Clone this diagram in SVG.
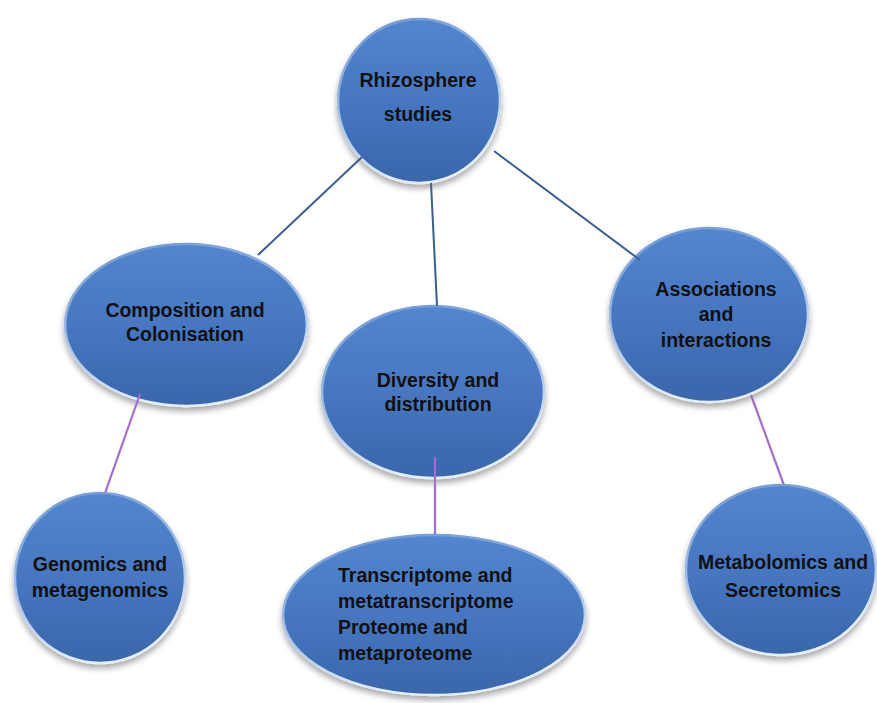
<svg xmlns="http://www.w3.org/2000/svg" width="877" height="703" viewBox="0 0 877 703">
  <defs>
    <linearGradient id="ballFill" x1="0" y1="0" x2="0" y2="1">
      <stop offset="0" stop-color="#5386cf"/>
      <stop offset="0.5" stop-color="#4677c0"/>
      <stop offset="1" stop-color="#3966ac"/>
    </linearGradient>
    <linearGradient id="rim" x1="0" y1="0" x2="0.3" y2="1">
      <stop offset="0" stop-color="#6a95d0"/>
      <stop offset="0.6" stop-color="#a9c4ea"/>
      <stop offset="1" stop-color="#e4eefb"/>
    </linearGradient>
    <filter id="shade" x="-20%" y="-20%" width="140%" height="150%">
      <feGaussianBlur in="SourceAlpha" stdDeviation="3"/>
      <feOffset dx="0" dy="4" result="b"/>
      <feComponentTransfer><feFuncA type="linear" slope="0.35"/></feComponentTransfer>
      <feMerge><feMergeNode/><feMergeNode in="SourceGraphic"/></feMerge>
    </filter>
    <style>
      .ball { fill: url(#ballFill); stroke: url(#rim); stroke-width: 2.5; filter: url(#shade); }
      .lbl { font-family: "Liberation Sans", Arial, sans-serif; font-weight: bold; font-size: 19.5px; fill: #111; text-anchor: middle; }
      .lbl.left { text-anchor: start; }
      .main { stroke: #3a5f92; stroke-width: 2; fill: none; }
      .sub { stroke: #a46cd0; stroke-width: 2.2; fill: none; }
    </style>
  </defs>
  <rect width="877" height="703" fill="#ffffff"/>

  <g id="rhizosphere">
    <ellipse class="ball" cx="419" cy="101" rx="81" ry="82"/>
    <text class="lbl" x="418" y="87">Rhizosphere</text>
    <text class="lbl" x="418" y="121">studies</text>
  </g>

  <g id="composition">
    <ellipse class="ball" cx="186" cy="325" rx="121" ry="81"/>
    <text class="lbl" x="185" y="317">Composition and</text>
    <text class="lbl" x="185" y="341">Colonisation</text>
  </g>

  <g id="diversity">
    <ellipse class="ball" cx="433" cy="392" rx="111" ry="86"/>
    <text class="lbl" x="438" y="387">Diversity and</text>
    <text class="lbl" x="438" y="411">distribution</text>
  </g>

  <g id="associations">
    <ellipse class="ball" cx="709" cy="315" rx="99" ry="87"/>
    <text class="lbl" x="716" y="296">Associations</text>
    <text class="lbl" x="716" y="321">and</text>
    <text class="lbl" x="716" y="347">interactions</text>
  </g>

  <!-- links run from inside each parent down to the rim of its child -->
  <g id="connectors">
    <line class="main" x1="362" y1="157" x2="258" y2="255"/>
    <line class="main" x1="431" y1="183" x2="437" y2="306"/>
    <line class="main" x1="494" y1="151" x2="640" y2="260"/>
    <line class="sub" x1="140" y1="394" x2="104" y2="496"/>
    <line class="sub" x1="435" y1="457" x2="435" y2="538"/>
    <line class="sub" x1="751" y1="395" x2="785" y2="488"/>
  </g>

  <g id="genomics">
    <ellipse class="ball" cx="100" cy="578" rx="85" ry="85"/>
    <text class="lbl" x="100" y="571">Genomics and</text>
    <text class="lbl" x="100" y="597">metagenomics</text>
  </g>

  <g id="transcriptome">
    <ellipse class="ball" cx="434" cy="615" rx="151" ry="80"/>
    <text class="lbl left" x="338" y="582">Transcriptome and</text>
    <text class="lbl left" x="338" y="608">metatranscriptome</text>
    <text class="lbl left" x="338" y="634">Proteome and</text>
    <text class="lbl left" x="338" y="660">metaproteome</text>
  </g>

  <g id="metabolomics">
    <ellipse class="ball" cx="781" cy="570" rx="95" ry="85"/>
    <text class="lbl" x="783" y="569">Metabolomics and</text>
    <text class="lbl" x="783" y="597">Secretomics</text>
  </g>
</svg>
